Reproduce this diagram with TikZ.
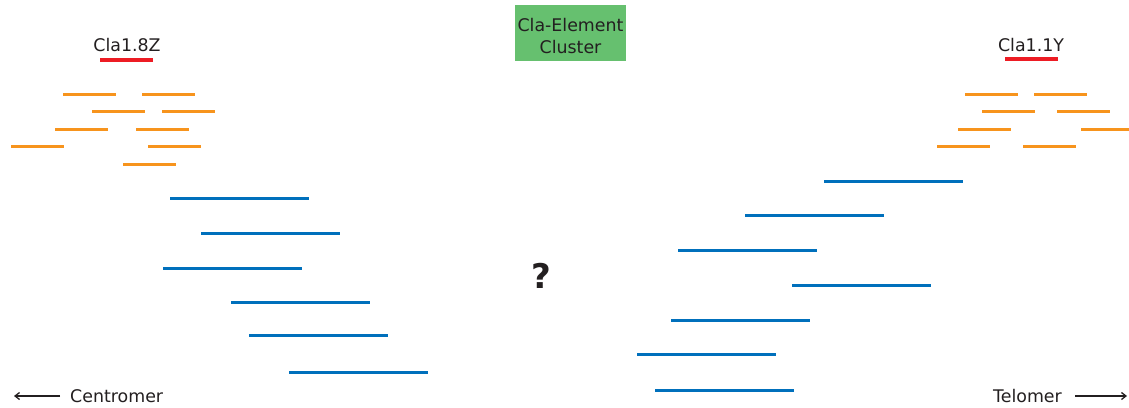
\documentclass[tikz,border=0pt]{standalone}
\usepackage{fontspec}
\setmainfont{DejaVu Sans}
\usetikzlibrary{arrows.meta}
\definecolor{orng}{RGB}{247,148,29}
\definecolor{blu}{RGB}{0,112,188}
\definecolor{rd}{RGB}{237,28,36}
\definecolor{grn}{RGB}{102,192,111}
\definecolor{txt}{RGB}{35,31,32}
\begin{document}
\begin{tikzpicture}[x=1pt,y=-1pt,
  ob/.style={draw=orng,line width=3pt},
  bb/.style={draw=blu,line width=3pt},
  rb/.style={draw=rd,line width=4pt},
  lbl/.style={font=\fontsize{17.4}{21}\selectfont,text=txt,inner sep=0pt},
  arr/.style={-{Straight Barb[length=4.5pt,width=7pt,line width=1.3pt]},line width=1.3pt,draw=txt}]
\useasboundingbox (0,0) rectangle (1129,407);
% left orange
\foreach \a/\b/\y in {63/116/94,142/195/94,92/145/111,162/215/111,55/108/129,136/189/129,11/64/146,148/201/146,123/176/164}
  \draw[ob] (\a,\y) -- (\b,\y);
% right orange
\foreach \a/\b/\y in {965/1018/94,1034/1087/94,982/1035/111,1057/1110/111,958/1011/129,1081/1134/129,937/990/146,1023/1076/146}
  \draw[ob] (\a,\y) -- (\b,\y);
% red
\draw[rb] (100,60) -- (153,60);
\draw[rb] (1005,59) -- (1058,59);
\node[lbl] (z) at (127,45) {Cla1.8Z};
\node[lbl] (y) at (1031,45) {Cla1.1Y};
% blue left
\foreach \a/\y in {170/198,201/233,163/268,231/302,249/335,289/372}
  \draw[bb] (\a,\y) -- ++(139,0);
% blue right
\foreach \a/\y in {824/181,745/215,678/250,792/285,671/320,637/354,655/390}
  \draw[bb] (\a,\y) -- ++(139,0);
% green box
\node[fill=grn,minimum width=111pt,minimum height=56pt,inner sep=0pt] (cl) at (570.5,33) {};
\node[lbl,align=center] (clt) at (570.5,36) {Cla-Element\\[1pt]Cluster};
\node[font=\bfseries\fontsize{34}{34}\selectfont,text=txt] (q) at (541,276) {?};
% bottom
\node[lbl,anchor=west] (cen) at (70,396) {Centromer};
\node[lbl,anchor=east] (tel) at (1062,396) {Telomer};
\coordinate (cl0) at (14,396);
\coordinate (tr0) at (1127,396);
\draw[arr] ([xshift=-10pt]cen.west) -- (cl0);
\draw[arr] ([xshift=13pt]tel.east) -- (tr0);
\end{tikzpicture}
\end{document}
